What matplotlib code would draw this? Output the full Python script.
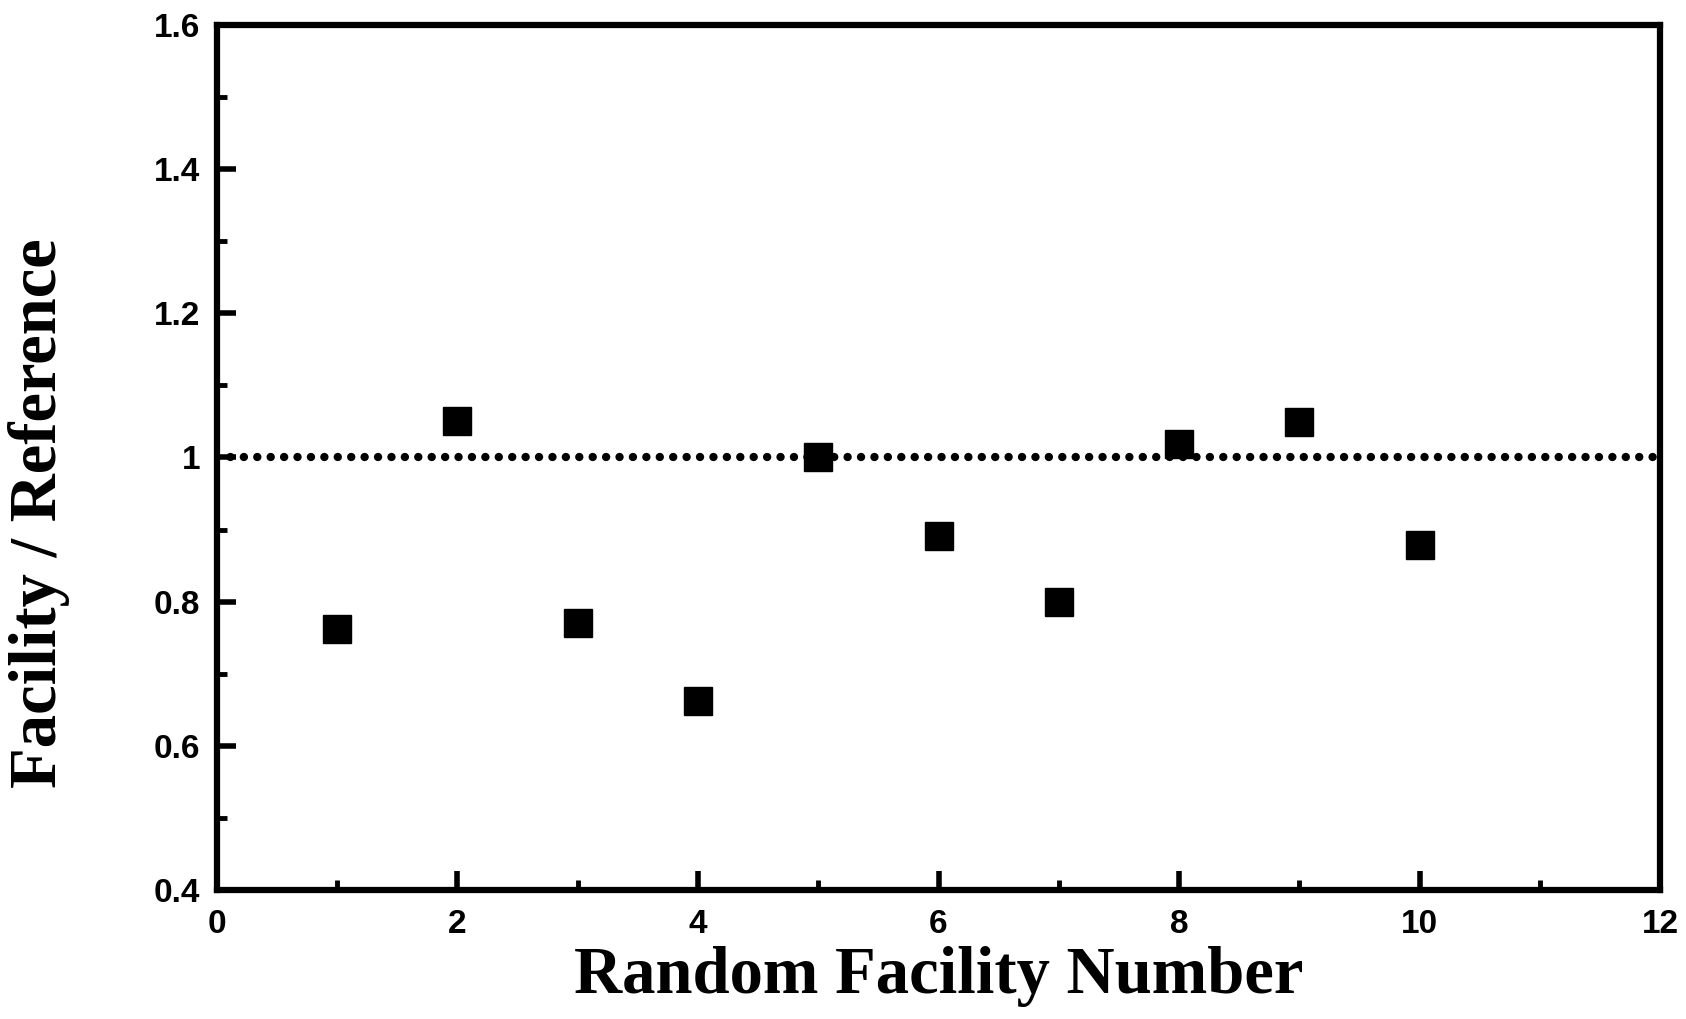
import matplotlib
matplotlib.use("Agg")
import matplotlib.pyplot as plt
from matplotlib.ticker import MultipleLocator
from matplotlib import font_manager

# data
facility = [1, 2, 3, 4, 5, 6, 7, 8, 9, 10]
ratio = [0.762, 1.051, 0.771, 0.662, 1.0, 0.891, 0.80, 1.019, 1.049, 0.879]
reference_level = 1.0
x_ticks = [0, 2, 4, 6, 8, 10, 12]
y_ticks = [0.4, 0.6, 0.8, 1, 1.2, 1.4, 1.6]

names = {f.name for f in font_manager.fontManager.ttflist}
tick_font = "Liberation Sans Narrow" if "Liberation Sans Narrow" in names else "Liberation Sans"

fig = plt.figure(figsize=(16.86, 10.19), dpi=100)
ax = fig.add_axes([0.1287, 0.1266, 0.8559, 0.8489])

ax.axhline(reference_level, color="black", lw=6, linestyle=(0, (0.01, 1.6)),
           dash_capstyle="round", zorder=2)
ax.plot(facility, ratio, linestyle="none", marker="s", markersize=20,
        color="black", zorder=3)

ax.set_xlim(0, 12)
ax.set_ylim(0.4, 1.6)
ax.xaxis.set_major_locator(MultipleLocator(2))
ax.xaxis.set_minor_locator(MultipleLocator(1))
ax.yaxis.set_major_locator(MultipleLocator(0.2))
ax.yaxis.set_minor_locator(MultipleLocator(0.1))
ax.set_xticks(x_ticks)
ax.set_xticklabels([str(v) for v in x_ticks])
ax.set_yticks(y_ticks)
ax.set_yticklabels([str(v) for v in y_ticks])

for s in ax.spines.values():
    s.set_linewidth(4.5)

ax.tick_params(which="major", direction="in", length=14, width=4)
ax.tick_params(which="minor", direction="in", length=7, width=3.5)
ax.tick_params(axis="x", which="both", top=False, pad=14)
ax.tick_params(axis="y", which="both", right=False, pad=12)

for lab in ax.get_xticklabels() + ax.get_yticklabels():
    lab.set_fontfamily(tick_font)
    lab.set_fontweight("bold")
    lab.set_fontsize(24)

ax.set_xlabel("Random Facility Number", fontfamily="Liberation Serif",
              fontweight="bold", fontsize=48, labelpad=4)
ax.set_ylabel("Facility / Reference", fontfamily="Liberation Serif",
              fontweight="bold", fontsize=48)
ax.yaxis.set_label_coords(-0.102, 0.436)

fig.savefig("out.png", dpi=100)
